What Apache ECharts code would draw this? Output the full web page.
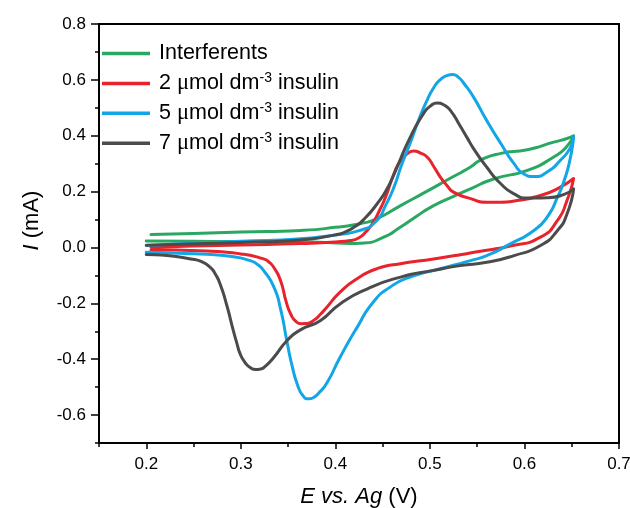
<!DOCTYPE html>
<html>
<head>
<meta charset="utf-8">
<script src="https://cdn.jsdelivr.net/npm/echarts@6/dist/echarts.min.js"></script>
<style>
  html, body { margin: 0; padding: 0; background: #fff; }
  #chart { width: 630px; height: 508px; }
</style>
</head>
<body>
<div id="chart"></div>
<script>
// Cyclic voltammograms: potential E (V vs. Ag) and current I (mA), one closed scan per trace
const seriesNames = ['Interferents', '2 μmol dm-3 insulin', '5 μmol dm-3 insulin', '7 μmol dm-3 insulin'];
const seriesColors = ['#2aa862', '#e8232b', '#12a6e6', '#4b4b4b'];

const potInterf = [0.200, 0.250, 0.300, 0.350, 0.390, 0.416, 0.430, 0.450, 0.469, 0.486, 0.504, 0.525, 0.543, 0.568, 0.603, 0.631, 0.645, 0.652,
                   0.645, 0.631, 0.603, 0.574, 0.553, 0.543, 0.520, 0.500, 0.469, 0.444, 0.430, 0.400, 0.363, 0.300, 0.250, 0.205];
const curInterf = [0.023, 0.022, 0.021, 0.021, 0.018, 0.014, 0.016, 0.035, 0.073, 0.112, 0.150, 0.183, 0.210, 0.246, 0.276, 0.324, 0.362, 0.400,
                   0.390, 0.377, 0.350, 0.336, 0.312, 0.288, 0.245, 0.207, 0.150, 0.103, 0.088, 0.072, 0.061, 0.055, 0.050, 0.046];

const potIns2 = [0.205, 0.250, 0.300, 0.363, 0.400, 0.416, 0.425, 0.432, 0.440, 0.447, 0.453, 0.462, 0.469, 0.476, 0.483, 0.490, 0.497, 0.504, 0.511, 0.518, 0.525, 0.543, 0.560, 0.575, 0.592, 0.617, 0.638, 0.652,
                 0.645, 0.635, 0.617, 0.585, 0.550, 0.532, 0.504, 0.469, 0.444, 0.423, 0.405, 0.391, 0.384, 0.377, 0.370, 0.364, 0.358, 0.353, 0.348, 0.342, 0.335, 0.330, 0.324, 0.300, 0.264, 0.205];
const curIns2 = [0.001, 0.005, 0.009, 0.014, 0.020, 0.025, 0.035, 0.055, 0.090, 0.135, 0.180, 0.264, 0.312, 0.335, 0.345, 0.338, 0.324, 0.290, 0.252, 0.222, 0.198, 0.175, 0.162, 0.162, 0.168, 0.186, 0.216, 0.247,
                 0.168, 0.097, 0.037, 0.005, -0.015, -0.026, -0.041, -0.058, -0.076, -0.112, -0.160, -0.214, -0.240, -0.261, -0.272, -0.273, -0.264, -0.240, -0.195, -0.118, -0.072, -0.053, -0.041, -0.023, -0.013, -0.008];

const potIns5 = [0.200, 0.250, 0.300, 0.363, 0.400, 0.426, 0.444, 0.453, 0.462, 0.470, 0.479, 0.488, 0.497, 0.504, 0.511, 0.518, 0.524, 0.530, 0.536, 0.546, 0.560, 0.575, 0.589, 0.599, 0.610, 0.624, 0.638, 0.649, 0.652,
                 0.648, 0.642, 0.635, 0.624, 0.610, 0.585, 0.560, 0.543, 0.511, 0.479, 0.458, 0.440, 0.423, 0.405, 0.391, 0.382, 0.377, 0.372, 0.366, 0.360, 0.354, 0.349, 0.342, 0.335, 0.324, 0.318, 0.310, 0.282, 0.229, 0.200];
const curIns5 = [0.007, 0.015, 0.022, 0.031, 0.045, 0.061, 0.097, 0.150, 0.216, 0.295, 0.372, 0.455, 0.527, 0.572, 0.601, 0.615, 0.619, 0.610, 0.587, 0.539, 0.455, 0.372, 0.300, 0.264, 0.254, 0.270, 0.312, 0.360, 0.395,
                 0.312, 0.240, 0.180, 0.109, 0.061, 0.013, -0.029, -0.047, -0.076, -0.106, -0.142, -0.196, -0.286, -0.393, -0.485, -0.523, -0.537, -0.542, -0.532, -0.492, -0.420, -0.340, -0.220, -0.142, -0.082, -0.062, -0.047, -0.029, -0.020, -0.017];

const potIns7 = [0.200, 0.300, 0.363, 0.400, 0.410, 0.420, 0.430, 0.445, 0.455, 0.462, 0.479, 0.493, 0.500, 0.508, 0.515, 0.522, 0.532, 0.539, 0.546, 0.560, 0.575, 0.589, 0.603, 0.624, 0.642, 0.652,
                 0.645, 0.635, 0.617, 0.589, 0.560, 0.532, 0.504, 0.469, 0.434, 0.405, 0.384, 0.363, 0.349, 0.335, 0.326, 0.321, 0.316, 0.310, 0.304, 0.299, 0.296, 0.292, 0.285, 0.278, 0.273, 0.268, 0.258, 0.247, 0.222, 0.200];
const curIns7 = [0.008, 0.018, 0.027, 0.045, 0.055, 0.073, 0.100, 0.160, 0.212, 0.262, 0.393, 0.478, 0.505, 0.517, 0.510, 0.489, 0.435, 0.395, 0.355, 0.288, 0.228, 0.192, 0.177, 0.178, 0.190, 0.210,
                 0.120, 0.061, 0.007, -0.029, -0.053, -0.065, -0.082, -0.106, -0.148, -0.202, -0.262, -0.295, -0.333, -0.393, -0.425, -0.435, -0.437, -0.430, -0.410, -0.378, -0.345, -0.297, -0.205, -0.130, -0.095, -0.072, -0.050, -0.041, -0.029, -0.025];

// Axis ticks
const xMajorTicks = [0.2, 0.3, 0.4, 0.5, 0.6, 0.7];
const xMinorTicks = [0.15, 0.25, 0.35, 0.45, 0.55, 0.65];
const yMajorTicks = [-0.6, -0.4, -0.2, 0.0, 0.2, 0.4, 0.6, 0.8];
const yMinorTicks = [-0.7, -0.5, -0.3, -0.1, 0.1, 0.3, 0.5, 0.7];

const potentials = [potInterf, potIns2, potIns5, potIns7];
const currents = [curInterf, curIns2, curIns5, curIns7];

function zip(xs, ys) { return xs.map((x, i) => [x, ys[i]]); }

const FONT = '"Liberation Sans", Arial, sans-serif';
const axisBase = {
  type: 'value',
  splitLine: { show: false },
};

const chart = echarts.init(document.getElementById('chart'), null, { renderer: 'canvas' });

chart.setOption({
  animation: false,
  backgroundColor: '#fff',
  grid: {
    left: 99, right: 11, top: 24, bottom: 65,
    containLabel: false, outerBoundsMode: 'none',
    show: true, borderColor: '#000', borderWidth: 2, backgroundColor: 'transparent'
  },
  legend: {
    orient: 'vertical',
    left: 97,
    top: 36.5,
    icon: 'rect',
    itemWidth: 48,
    itemHeight: 3.5,
    itemGap: 5.9,
    data: seriesNames,
    textStyle: {
      fontFamily: FONT, fontSize: 21.5, color: '#000', lineHeight: 24, padding: [0, 0, 0, 4],
      rich: {
        mu: { fontFamily: '"Liberation Serif", serif', fontSize: 22.5, color: '#000', lineHeight: 24 },
        sup: { fontFamily: FONT, fontSize: 14, color: '#000', lineHeight: 14, verticalAlign: 'top' }
      }
    },
    formatter: name => name.replace('μ', '{mu|μ}').replace('dm-3', 'dm{sup|-3}')
  },
  xAxis: [
    Object.assign({}, axisBase, {
      min: 0.15, max: 0.7,
      name: '{i|E vs. Ag} (V)',
      nameLocation: 'middle',
      nameGap: 43,
      nameTextStyle: { fontFamily: FONT, fontSize: 22, color: '#000', rich: { i: { fontFamily: FONT, fontSize: 22, fontStyle: 'italic', color: '#000' } } },
      axisLine: { show: true, onZero: false, lineStyle: { color: '#000', width: 2 } },
      axisTick: { show: true, length: 6, customValues: xMajorTicks, lineStyle: { color: '#000', width: 1.5 } },
      axisLabel: { show: true, customValues: xMajorTicks, margin: 13, fontFamily: FONT, fontSize: 17, color: '#000', formatter: v => v.toFixed(1) }
    }),
    Object.assign({}, axisBase, {
      min: 0.15, max: 0.7, position: 'bottom',
      axisLine: { show: false, onZero: false },
      axisTick: { show: true, length: 4, customValues: xMinorTicks, lineStyle: { color: '#000', width: 1.5 } },
      axisLabel: { show: false }
    })
  ],
  yAxis: [
    Object.assign({}, axisBase, {
      min: -0.7, max: 0.8,
      name: '{i|I} (mA)',
      nameLocation: 'middle',
      nameGap: 56,
      nameRotate: 90,
      nameTextStyle: { fontFamily: FONT, fontSize: 22, color: '#000', padding: [0, 0, 0, 26], rich: { i: { fontFamily: FONT, fontSize: 22, fontStyle: 'italic', color: '#000' } } },
      axisLine: { show: true, onZero: false, lineStyle: { color: '#000', width: 2 } },
      axisTick: { show: true, length: 8, customValues: yMajorTicks, lineStyle: { color: '#000', width: 1.5 } },
      axisLabel: { show: true, customValues: yMajorTicks, margin: 13, fontFamily: FONT, fontSize: 17, color: '#000', formatter: v => v.toFixed(1) }
    }),
    Object.assign({}, axisBase, {
      min: -0.7, max: 0.8, position: 'left',
      axisLine: { show: false, onZero: false },
      axisTick: { show: true, length: 4, customValues: yMinorTicks, lineStyle: { color: '#000', width: 1.5 } },
      axisLabel: { show: false }
    })
  ],
  series: seriesNames.map((name, k) => ({
    name: name,
    type: 'line',
    xAxisIndex: 0,
    yAxisIndex: 0,
    data: zip(potentials[k], currents[k]),
    showSymbol: false,
    smooth: 0.6,
    color: seriesColors[k],
    lineStyle: { width: 3, color: seriesColors[k], join: 'round', cap: 'round' }
  }))
});
</script>
</body>
</html>
